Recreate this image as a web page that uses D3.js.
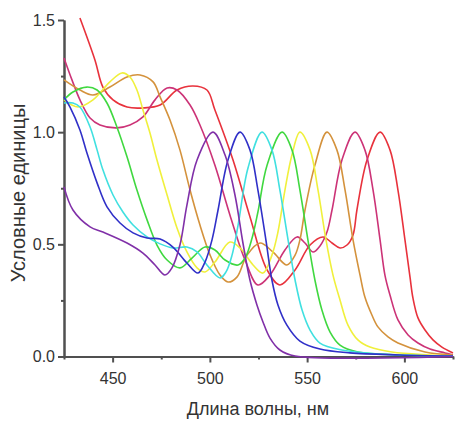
<!DOCTYPE html>
<html>
<head>
<meta charset="utf-8">
<script src="https://cdn.jsdelivr.net/npm/d3@7"></script>
<style>
  body { margin: 0; background: #fff; }
  svg text { font-family: Arial, "Liberation Sans", sans-serif; fill: #333; }
</style>
</head>
<body>
<div id="chart"></div>
<script>
// spectra, [wavelength nm, relative units]
var redSeries = [[433.2,1.509],[440.9,1.322],[445.0,1.201],[450.2,1.144],[457.4,1.112],[465.6,1.108],[474.4,1.121],[483.1,1.188],[491.3,1.206],[498.5,1.188],[502.6,1.099],[511.9,0.876],[520.6,0.623],[529.4,0.386],[536.0,0.319],[543.8,0.386],[551.5,0.497],[558.2,0.533],[562.8,0.506],[566.9,0.484],[570.5,0.497],[573.6,0.542],[575.6,0.653],[580.8,0.876],[587.5,1.0],[592.6,0.921],[596.7,0.742],[600.3,0.52],[602.9,0.354],[604.4,0.261],[607.0,0.172],[610.6,0.118],[614.7,0.074],[619.3,0.042],[625,0.016]];
var magentaSeries = [[425.0,1.331],[429.1,1.233],[433.2,1.144],[438.4,1.063],[443.5,1.032],[452.2,1.019],[458.9,1.032],[465.6,1.068],[471.8,1.144],[478.0,1.197],[483.1,1.188],[489.8,1.121],[494.9,1.032],[502.6,0.853],[510.3,0.631],[518.1,0.430],[524.7,0.319],[530.9,0.363],[538.6,0.475],[544.8,0.533],[548.9,0.506],[553.0,0.466],[556.6,0.493],[560.2,0.555],[562.8,0.653],[567.9,0.876],[574.6,1.0],[579.7,0.921],[583.9,0.742],[587.5,0.520],[590.0,0.363],[592.6,0.274],[596.7,0.163],[601.9,0.096],[607.0,0.060],[613.2,0.033],[620.9,0.016],[625,0.007]];
var orangeSeries = [[425,1.233],[433.2,1.188],[439.9,1.166],[448.6,1.201],[457.4,1.246],[464.1,1.255],[470.8,1.224],[474.4,1.157],[479.5,1.054],[484.6,0.921],[489.8,0.742],[494.9,0.586],[500.1,0.452],[505.2,0.363],[509.3,0.332],[513.9,0.354],[519.1,0.452],[525.8,0.506],[532.4,0.466],[539.6,0.408],[543.8,0.452],[546.3,0.520],[548.9,0.653],[554.0,0.853],[560.2,1.0],[565.3,0.921],[569.5,0.742],[573.6,0.520],[577.2,0.363],[579.7,0.265],[583.3,0.185],[586.4,0.132],[591.6,0.087],[596.7,0.060],[610.6,0.020],[625,0.007]];
var yellowSeries = [[425,1.144],[432.2,1.112],[439.9,1.144],[448.6,1.224],[454.8,1.264],[458.9,1.246],[462.5,1.188],[465.6,1.099],[469.2,0.996],[472.8,0.876],[478.0,0.720],[483.1,0.573],[488.2,0.466],[493.4,0.395],[497.5,0.377],[502.6,0.421],[510.3,0.510],[515.5,0.484],[522.2,0.408],[527.3,0.372],[531.9,0.452],[535.0,0.555],[538.6,0.742],[542.2,0.898],[546.3,1.0],[551.5,0.921],[555.6,0.742],[559.7,0.520],[563.3,0.363],[566.9,0.252],[571.0,0.140],[576.1,0.074],[582.3,0.042],[593.6,0.020],[613.2,0.007],[625,0.002]];
var greenSeries = [[425,1.144],[429.6,1.179],[436.8,1.201],[442.0,1.188],[447.1,1.130],[452.2,1.023],[457.4,0.890],[462.5,0.742],[467.7,0.609],[472.8,0.497],[478.0,0.430],[484.6,0.395],[490.8,0.439],[497.5,0.488],[502.6,0.475],[507.8,0.430],[514.5,0.408],[518.1,0.439],[521.7,0.528],[524.7,0.644],[529.4,0.853],[537.1,1.0],[542.2,0.921],[546.3,0.742],[550.4,0.520],[554.0,0.341],[557.6,0.207],[561.8,0.109],[566.9,0.051],[576.1,0.020],[597.7,0.007],[625,0.002]];
var cyanSeries = [[425,1.130],[429.6,1.130],[433.2,1.112],[438.4,1.023],[442.0,0.921],[445.0,0.832],[450.2,0.720],[455.3,0.644],[460.5,0.586],[467.7,0.533],[474.4,0.502],[481.0,0.484],[488.2,0.488],[493.4,0.466],[498.5,0.408],[505.2,0.350],[508.3,0.377],[511.4,0.452],[514.5,0.586],[519.6,0.840],[526.8,1.0],[531.9,0.921],[536.0,0.742],[540.2,0.520],[543.8,0.341],[547.4,0.207],[551.5,0.118],[556.6,0.060],[567.9,0.029],[587.5,0.011],[625,0.002]];
var blueSeries = [[425,1.157],[428.1,1.112],[433.2,1.010],[436.8,0.907],[442.0,0.774],[447.1,0.667],[453.8,0.595],[460.5,0.551],[467.7,0.528],[474.4,0.524],[481.0,0.488],[488.2,0.417],[493.9,0.372],[497.5,0.421],[501.1,0.520],[504.2,0.653],[509.3,0.876],[515.5,1.0],[520.6,0.921],[524.7,0.742],[528.8,0.520],[531.9,0.341],[535.0,0.230],[539.6,0.140],[546.3,0.069],[556.6,0.033],[572.0,0.016],[597.7,0.007],[625,0.002]];
var purpleSeries = [[425,0.756],[429.6,0.653],[438.4,0.578],[445.0,0.555],[457.4,0.506],[465.6,0.461],[471.8,0.408],[476.9,0.363],[480.5,0.395],[484.6,0.497],[488.2,0.675],[493.4,0.876],[501.6,1.0],[507.8,0.898],[512.9,0.720],[517.0,0.506],[520.6,0.341],[524.2,0.230],[527.3,0.154],[530.9,0.082],[536.0,0.029],[543.8,0.002],[625,0]];

var seriesList = [redSeries, magentaSeries, orangeSeries, yellowSeries, greenSeries, cyanSeries, blueSeries, purpleSeries];
var seriesColors = ["#e8323c", "#cc3377", "#d4923c", "#f0f03c", "#40d840", "#40e0e0", "#3030c8", "#8030a8"];

var xMajor = [450, 500, 550, 600];
var xMinor = [425, 475, 525, 575, 625];
var yMajor = [0, 0.5, 1.0, 1.5];
var yMinor = [0.25, 0.75, 1.25];

var xTitle = "Длина волны, нм";
var yTitle = "Условные единицы";

var width = 455, height = 421;
var margin = {left: 64, right: 2, top: 20, bottom: 64.5};

var svg = d3.select("#chart").append("svg")
  .attr("width", width)
  .attr("height", height);

var x = d3.scaleLinear().domain([425, 625]).range([margin.left, width - margin.right]);
var y = d3.scaleLinear().domain([0, 1.5]).range([height - margin.bottom, margin.top]);

function style_axis(g) {
  g.selectAll("path, line").attr("stroke", "#505050").attr("stroke-width", 2);
  g.selectAll("text").style("font-size", "16px").attr("fill", "#333");
}

// minor ticks first
svg.append("g")
  .attr("transform", "translate(0," + y(0) + ")")
  .call(d3.axisBottom(x).tickValues(xMinor).tickSize(3).tickSizeOuter(0).tickFormat(""))
  .call(style_axis);

svg.append("g")
  .attr("transform", "translate(" + x(425) + ",0)")
  .call(d3.axisLeft(y).tickValues(yMinor).tickSize(3).tickSizeOuter(0).tickFormat(""))
  .call(style_axis);

svg.append("g")
  .attr("transform", "translate(0," + y(0) + ")")
  .call(d3.axisBottom(x).tickValues(xMajor).tickSize(6).tickSizeOuter(0).tickPadding(10).tickFormat(d3.format("d")))
  .call(style_axis);

svg.append("g")
  .attr("transform", "translate(" + x(425) + ",0)")
  .call(d3.axisLeft(y).tickValues(yMajor).tickSize(6).tickSizeOuter(0).tickPadding(3).tickFormat(d3.format(".1f")))
  .call(style_axis);

var line = d3.line()
  .x(function(d) { return x(d[0]); })
  .y(function(d) { return y(Math.max(0, d[1])); })
  .curve(d3.curveCatmullRom.alpha(0.5));

svg.append("g")
  .selectAll("path")
  .data(seriesList)
  .enter()
  .append("path")
  .attr("d", line)
  .attr("fill", "none")
  .attr("stroke", function(d, i) { return seriesColors[i]; })
  .attr("stroke-width", 1.6);

svg.append("text")
  .attr("x", 258)
  .attr("y", 415)
  .attr("text-anchor", "middle")
  .style("font-size", "18px")
  .text(xTitle);

svg.append("text")
  .attr("transform", "translate(25,193) rotate(-90)")
  .attr("text-anchor", "middle")
  .style("font-size", "20px")
  .text(yTitle);
</script>
</body>
</html>
